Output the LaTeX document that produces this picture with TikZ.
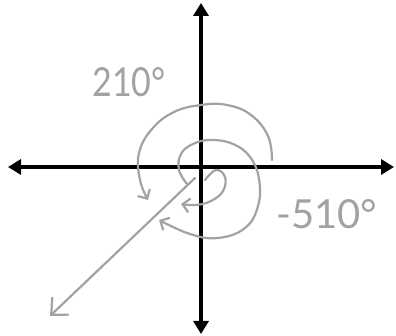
\documentclass[tikz,border=0pt]{standalone}
\usepackage{fontspec}
\setmainfont{Lato}
\usetikzlibrary{arrows.meta}
\definecolor{pencil}{HTML}{A2A2A2}
\tikzset{
  axis/.style={line width=4pt, black, {Triangle[length=13pt,width=15pt]}-{Triangle[length=13pt,width=15pt]}},
  sketch/.style={line width=2.2pt, pencil, line cap=round, line join=round},
  barb/.style={-{Straight Barb[length=7pt,width=14pt,line width=2.2pt]}},
  bigbarb/.style={-{Straight Barb[length=13pt,width=24pt,line width=2.2pt]}},
  lbl/.style={pencil, font=\fontsize{40}{40}\selectfont, inner sep=0pt}
}
\begin{document}
\begin{tikzpicture}[x=1pt,y=-1pt]
\useasboundingbox (0,0) rectangle (396,336);
% axes
\coordinate (top) at (201,3);
\coordinate (bottom) at (201,334);
\coordinate (left) at (8,167);
\coordinate (right) at (394,167);
\draw[axis] (bottom) -- (top);
\draw[axis] (left) -- (right);
% terminal ray
\coordinate (rayS) at (195,178);
\coordinate (rayE) at (50,316);
\draw[sketch, bigbarb] (rayS) -- (rayE);
% 210 degree arc
\draw[sketch, barb] plot[smooth, tension=0.7] coordinates
  {(272,160) (268,136) (251,115) (227,105) (201,105) (174,112) (152,129) (139,153) (140,180) (148,200)};
% -510 degree spiral, inner part
\draw[sketch, barb] plot[smooth, tension=0.7] coordinates
  {(205,180) (216,170) (225,177) (223,191) (211,201) (196,205) (181,204)};
% -510 degree spiral, outer part
\draw[sketch, barb] plot[smooth, tension=0.7] coordinates
  {(187,184) (179,170) (181,154) (193,144) (211,140) (233,144) (250,157) (259,179) (258,206) (245,228) (218,238) (190,234) (159,220)};
% labels
\node[lbl, xscale=0.85] (a210) at (129,82) {210°};
\node[lbl] (a510) at (327,214) {-510°};
\end{tikzpicture}
\end{document}
